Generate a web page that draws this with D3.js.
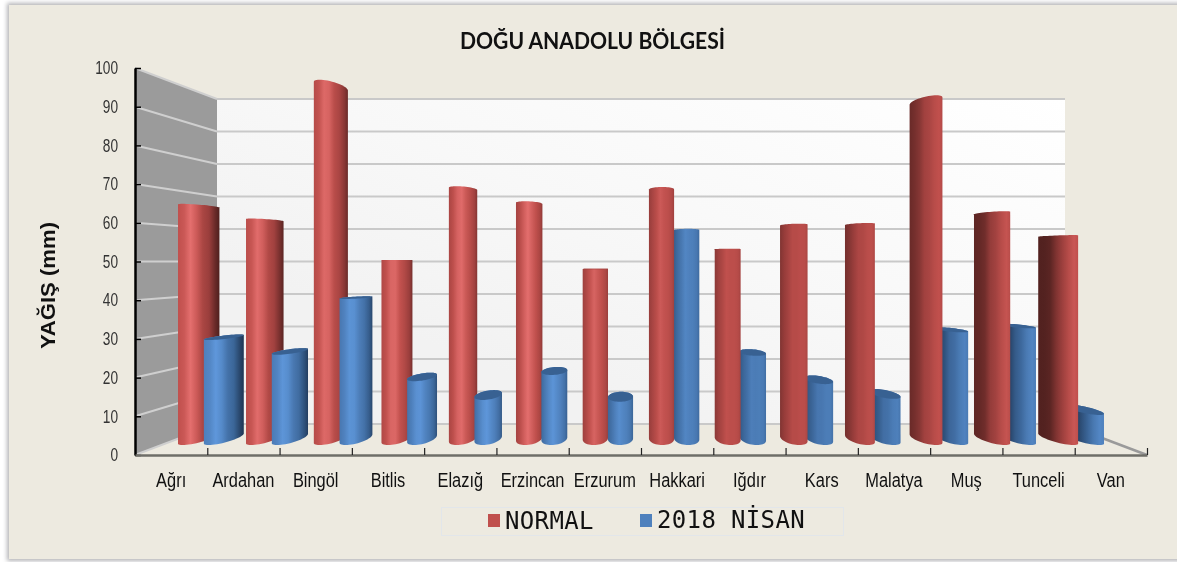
<!DOCTYPE html>
<html>
<head>
<meta charset="utf-8">
<title>Doğu Anadolu Bölgesi</title>
<script src="https://cdn.jsdelivr.net/npm/d3@7"></script>
<style>
  html, body { margin: 0; padding: 0; background: #fff; overflow: hidden; }
  svg { display: block; filter: blur(0.35px); }
  .narrow { font-family: "Liberation Sans", sans-serif; }
</style>
</head>
<body>
<svg width="1177" height="562"></svg>
<script>
// values (mm)
var categories = ["Ağrı", "Ardahan", "Bingöl", "Bitlis", "Elazığ", "Erzincan", "Erzurum", "Hakkari", "Iğdır", "Kars", "Malatya", "Muş", "Tunceli", "Van"];
var normal = [65.7, 61.7, 99.5, 50.4, 70.5, 66.4, 47.9, 70.3, 53.5, 60.3, 60.5, 95.3, 63.7, 57.2];
var nisan2018 = [28.6, 24.6, 39.8, 17.4, 12.3, 19.1, 11.8, 58.9, 24.3, 16.6, 12.6, 30.7, 31.8, 8.2];
var seriesNames = ["NORMAL", "2018 NİSAN"];
var yTicks = [0, 10, 20, 30, 40, 50, 60, 70, 80, 90, 100];

var svg = d3.select("svg");
var defs = svg.append("defs");

// the chart is a box: a front plane on the axes and a smaller back plane on the wall
var xFront = d3.scaleLinear().domain([0, 14]).range([135, 1147]),
    xBack = d3.scaleLinear().domain([0, 14]).range([217, 1065]),
    yFront = d3.scaleLinear().domain([0, 100]).range([455, 68]),
    yBack = d3.scaleLinear().domain([0, 100]).range([424, 99]);

// p = position along categories, v = value, z = depth (0 front, 1 back)
function project(p, v, z) {
    return [xFront(p) + z * (xBack(p) - xFront(p)), yFront(v) + z * (yBack(v) - yFront(v))];
}

// no narrow font is installed, so squeeze the glyphs to the width the picture has
function squeeze(selection, factor) {
    selection.each(function () {
        d3.select(this)
            .attr("textLength", this.getComputedTextLength() * factor)
            .attr("lengthAdjust", "spacingAndGlyphs");
    });
}

// panel with its soft shadow
var shadow = defs.append("filter").attr("id", "panelShadow")
    .attr("x", "-2%").attr("y", "-2%").attr("width", "104%").attr("height", "104%");
shadow.append("feGaussianBlur").attr("stdDeviation", 2);

svg.append("rect").attr("x", 7).attr("y", 3).attr("width", 1180).attr("height", 558)
    .attr("fill", "#b4b4b8").attr("filter", "url(#panelShadow)");
svg.append("rect").attr("x", 9).attr("y", 5).attr("width", 1168).attr("height", 554)
    .attr("fill", "#edeae0");

// walls
var wallGrad = defs.append("linearGradient").attr("id", "wallGrad")
    .attr("x1", 1).attr("y1", 0).attr("x2", 0).attr("y2", 1);
wallGrad.append("stop").attr("offset", "0%").attr("stop-color", "#ffffff");
wallGrad.append("stop").attr("offset", "45%").attr("stop-color", "#f8f8f8");
wallGrad.append("stop").attr("offset", "75%").attr("stop-color", "#f2f2f2");
wallGrad.append("stop").attr("offset", "100%").attr("stop-color", "#f2f2f2");

var line = d3.line();

svg.append("path")
    .attr("d", line([project(0, 0, 1), project(0, 100, 1), project(14, 100, 1), project(14, 0, 1)]) + "Z")
    .attr("fill", "url(#wallGrad)");
svg.append("path")
    .attr("d", line([project(0, 0, 0), project(0, 100, 0), project(0, 100, 1), project(0, 0, 1)]) + "Z")
    .attr("fill", "#9b9b9b");

// gridlines on both walls
svg.append("g").selectAll("line.back").data(yTicks).enter().append("line")
    .attr("class", "back")
    .attr("x1", function (d) { return project(0, d, 1)[0]; })
    .attr("y1", function (d) { return project(0, d, 1)[1]; })
    .attr("x2", function (d) { return project(14, d, 1)[0]; })
    .attr("y2", function (d) { return project(14, d, 1)[1]; })
    .attr("stroke", "#c9c9c9").attr("stroke-width", 2);
svg.append("g").selectAll("line.side").data(yTicks).enter().append("line")
    .attr("class", "side")
    .attr("x1", function (d) { return project(0, d, 0)[0]; })
    .attr("y1", function (d) { return project(0, d, 0)[1]; })
    .attr("x2", function (d) { return project(0, d, 1)[0]; })
    .attr("y2", function (d) { return project(0, d, 1)[1]; })
    .attr("stroke", "#cfcfcf").attr("stroke-width", 2);

// right edge of the floor
svg.append("path")
    .attr("d", line([project(14, 0, 1), project(14, 0, 0)]))
    .attr("stroke", "#9a9a9a").attr("stroke-width", 2.5).attr("fill", "none");

// axes
var yAxisG = svg.append("g")
    .attr("transform", "translate(135,0)")
    .attr("class", "narrow")
    .call(d3.axisLeft(yFront).tickValues(yTicks).tickSizeInner(-6).tickSizeOuter(0).tickPadding(17));
yAxisG.select(".domain").attr("stroke", "#000").attr("stroke-width", 2.5);
yAxisG.selectAll(".tick line").attr("stroke", "#000").attr("stroke-width", 1.5);
yAxisG.selectAll("text").attr("font-size", 18).attr("fill", "#333").style("font-family", "inherit")
    .call(squeeze, 0.76);

var xTickG = svg.append("g")
    .attr("transform", "translate(0,455)")
    .call(d3.axisBottom(xFront).tickValues(d3.range(1, 15)).tickSizeInner(-7).tickSizeOuter(0).tickFormat(""));
xTickG.select(".domain").attr("stroke", "#6e6e68").attr("stroke-width", 2.5);
xTickG.selectAll(".tick line").attr("stroke", "#222").attr("stroke-width", 1.2);

var xBand = d3.scaleBand().domain(categories).range([135, 1147]);
var xLabelG = svg.append("g")
    .attr("transform", "translate(0,455)")
    .attr("class", "narrow")
    .call(d3.axisBottom(xBand).tickSize(0).tickPadding(18));
xLabelG.select(".domain").remove();
xLabelG.selectAll("text").attr("font-size", 20).attr("fill", "#111").style("font-family", "inherit")
    .call(squeeze, 0.82);

// cylinders
var red = d3.scaleLinear().domain([0, 0.35, 0.7, 1]).range(["#4f201e", "#9a3e3c", "#c0504d", "#e46f6e"]);
var blue = d3.scaleLinear().domain([0, 0.35, 0.7, 1]).range(["#1d3350", "#3a6496", "#4f81bd", "#5f98dc"]);

// shading across a cylinder changes from the left side of the chart to the right
var stopOffsets = [0, 0.15, 0.3, 0.45, 0.6, 0.75, 0.9, 1];
var shadeLeft = [0.7, 0.78, 1, 0.8, 0.5, 0.35, 0.12, 0];
var shadeMid = [0.45, 0.65, 0.85, 1, 0.85, 0.7, 0.5, 0.3];
var shadeRight = [0, 0, 0.03, 0.2, 0.35, 0.6, 0.78, 0.7];

function shadeAt(i, u) {
    return d3.scaleLinear().domain([0.03, 0.37, 0.97]).range([shadeLeft[i], shadeMid[i], shadeRight[i]]).clamp(true)(u);
}

var radiusX = 0.19, radiusZ = 0.21, depthZ = 0.53;
var angles = d3.range(0, 48).map(function (k) { return k / 48 * 2 * Math.PI; });

function ring(p, v) {
    return angles.map(function (a) {
        return project(p + radiusX * Math.cos(a), v, depthZ - radiusZ * Math.sin(a));
    });
}

var barsG = svg.append("g");

function drawBar(i, series, value, ramp) {
    var p = i + 0.5 + (series === 0 ? -radiusX : radiusX);
    var u = p / 14;
    var id = "bar" + series + "_" + i;

    var grad = defs.append("linearGradient").attr("id", id);
    stopOffsets.forEach(function (o, k) {
        grad.append("stop").attr("offset", o).attr("stop-color", ramp(shadeAt(k, u)));
    });

    var top = ring(p, value);
    var hull = d3.polygonHull(ring(p, 0).concat(top));
    barsG.append("path").attr("d", line(hull) + "Z").attr("fill", "url(#" + id + ")");

    // the cap only shows when the top is below eye level
    if (yFront(value) > yBack(value)) {
        barsG.append("path").attr("d", line(top) + "Z").attr("fill", ramp(0.33));
    }
}

categories.forEach(function (c, i) {
    // the bar nearer the middle of the chart sits in front
    if (i < 7) {
        drawBar(i, 0, normal[i], red);
        drawBar(i, 1, nisan2018[i], blue);
    } else {
        drawBar(i, 1, nisan2018[i], blue);
        drawBar(i, 0, normal[i], red);
    }
});

// titles
svg.append("text")
    .attr("x", 460).attr("y", 49)
    .attr("textLength", 265).attr("lengthAdjust", "spacingAndGlyphs")
    .attr("font-family", "Lato, 'Open Sans', sans-serif")
    .attr("font-weight", 700).attr("font-size", 22).attr("fill", "#111")
    .text("DOĞU ANADOLU BÖLGESİ");

svg.append("text")
    .attr("transform", "translate(55,349) rotate(-90)")
    .attr("textLength", 127).attr("lengthAdjust", "spacingAndGlyphs")
    .attr("font-family", "'Liberation Sans', sans-serif")
    .attr("font-weight", 700).attr("font-size", 20).attr("fill", "#111")
    .text("YAĞIŞ (mm)");

// legend
svg.append("rect")
    .attr("x", 441.5).attr("y", 507.5).attr("width", 402).attr("height", 28)
    .attr("fill", "none").attr("stroke", "#e2e6ea").attr("stroke-width", 1);

var legendX = [488, 640];
var legendColors = ["#c0504d", "#4f81bd"];
seriesNames.forEach(function (name, i) {
    svg.append("rect")
        .attr("x", legendX[i]).attr("y", 514).attr("width", 12).attr("height", 13)
        .attr("fill", legendColors[i]);
    svg.append("text")
        .attr("x", legendX[i] + 17).attr("y", 529 - i)
        .attr("font-family", "'DejaVu Sans Mono', monospace")
        .attr("font-size", 24).attr("letter-spacing", 0.35).attr("fill", "#111")
        .text(name);
});
</script>
</body>
</html>
